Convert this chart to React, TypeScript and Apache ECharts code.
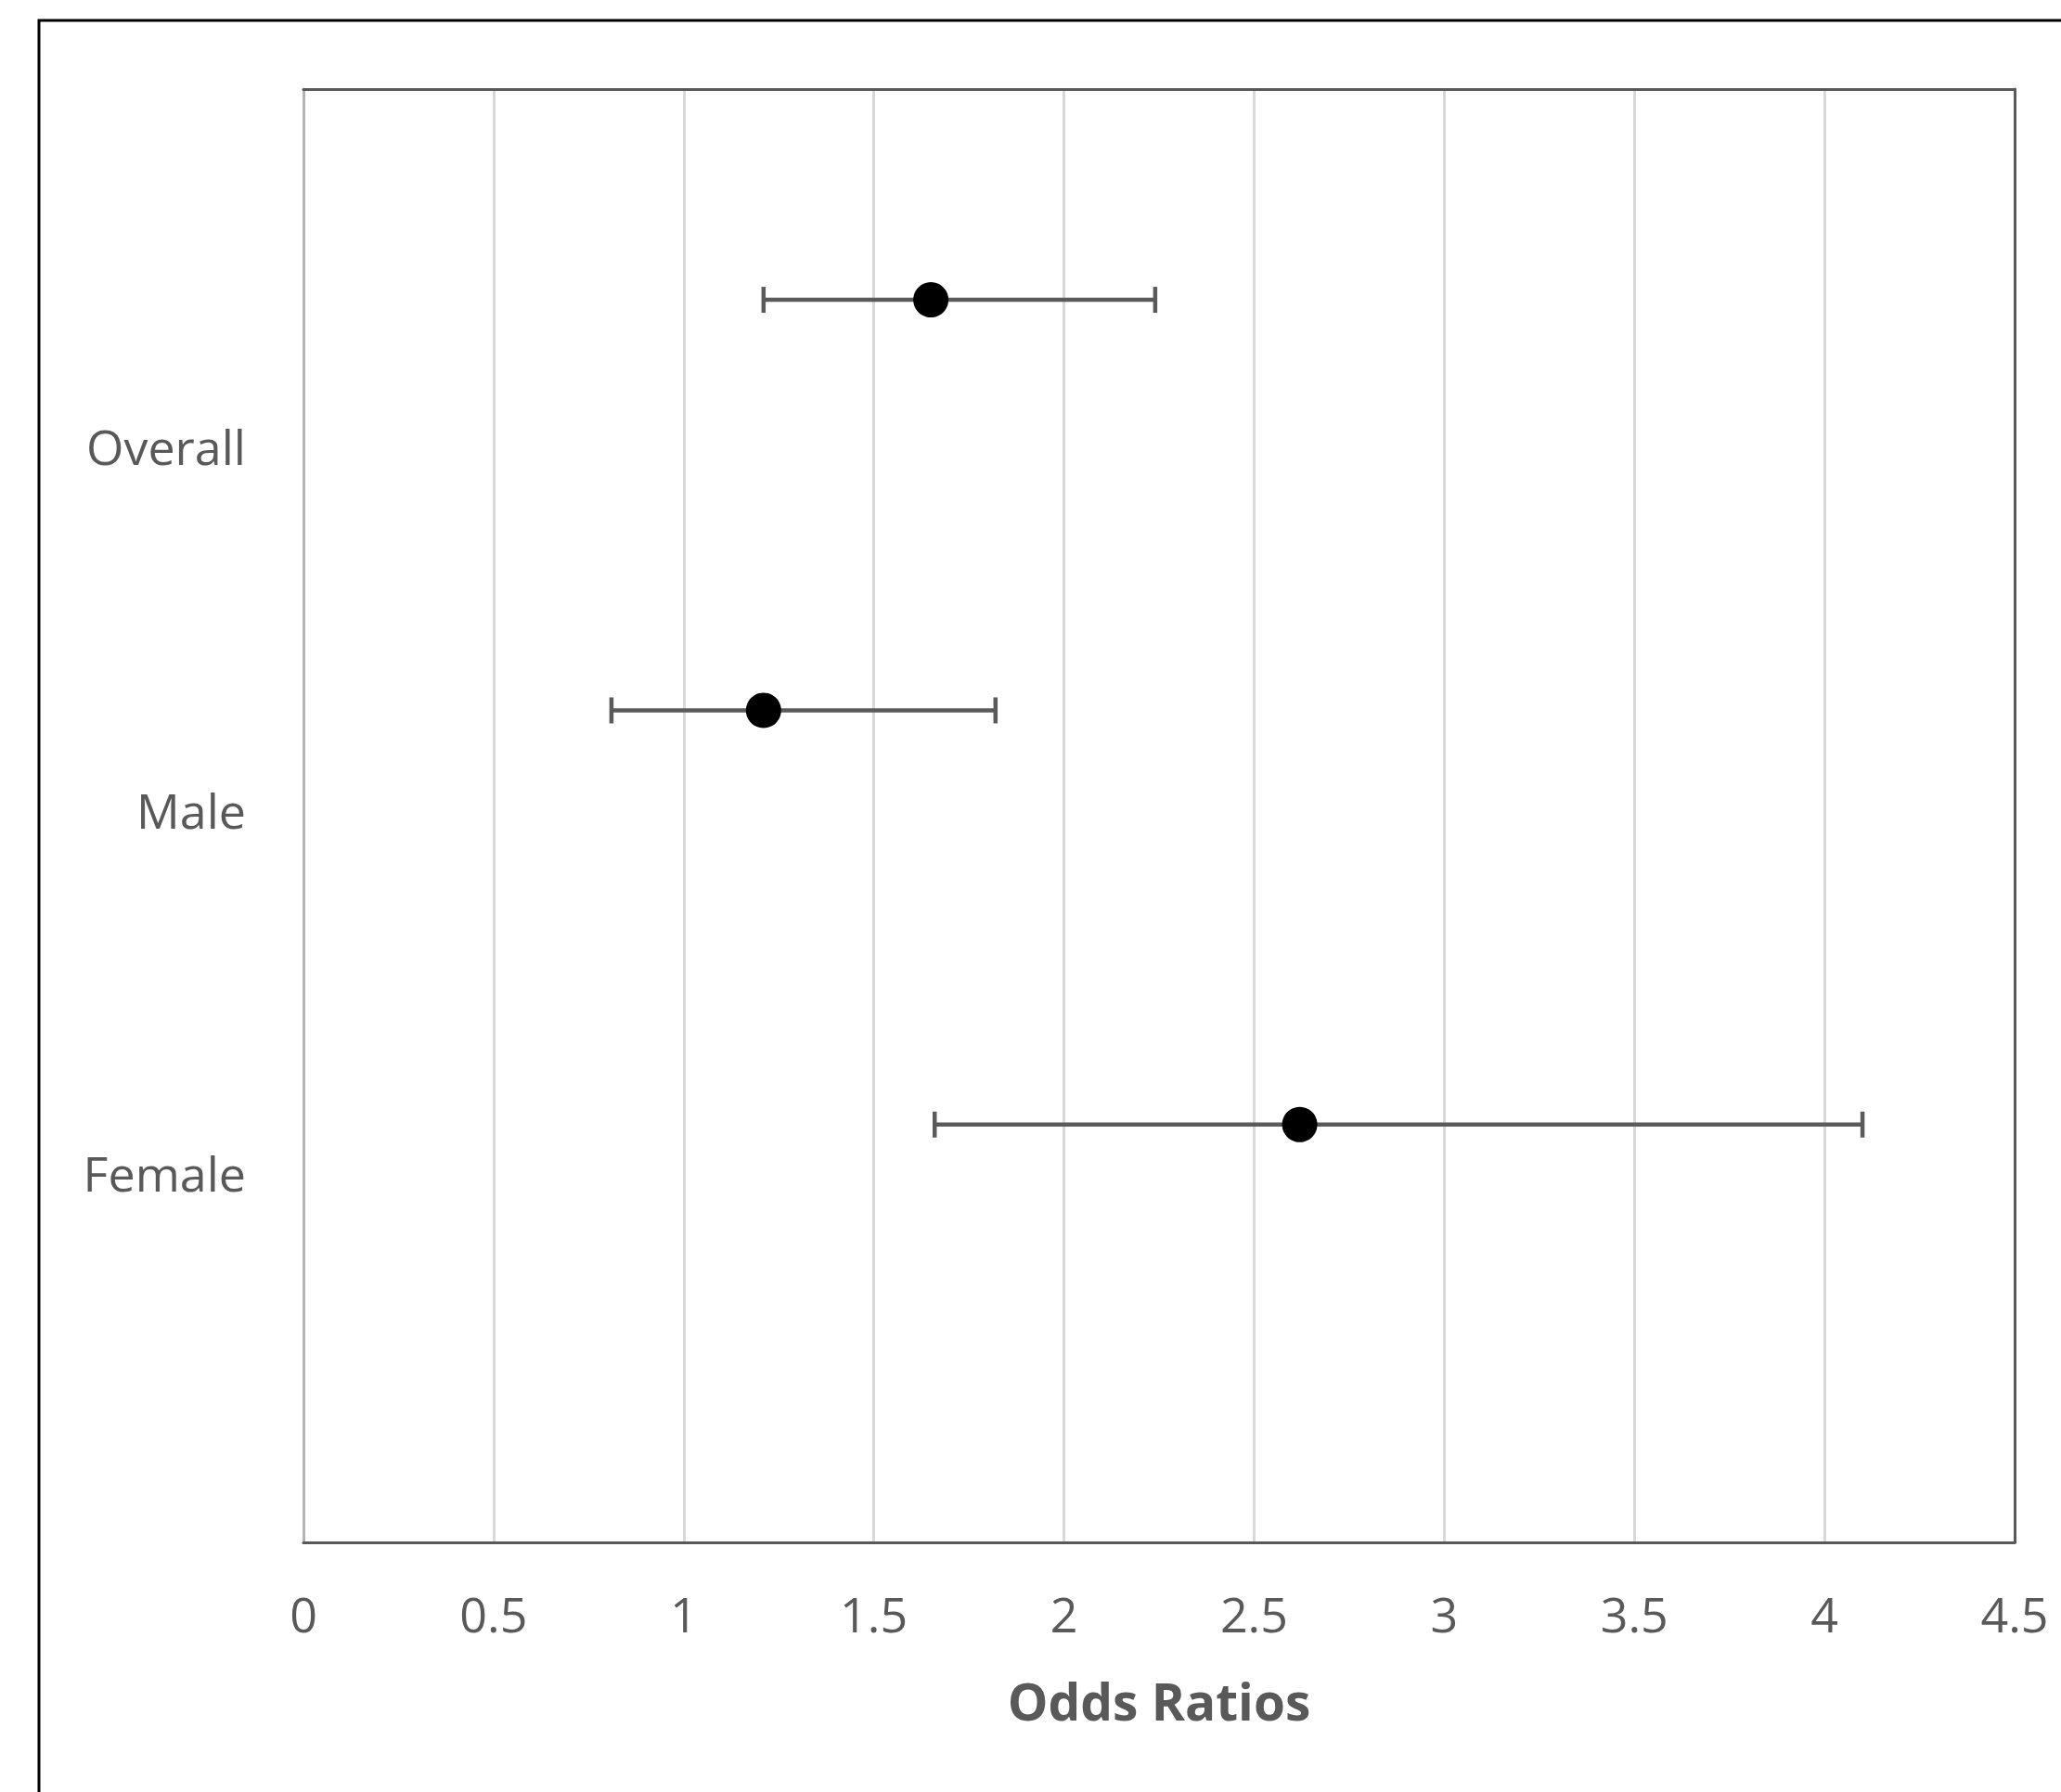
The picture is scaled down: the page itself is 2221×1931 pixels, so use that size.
import React, { useEffect, useRef } from "react";
import * as echarts from "echarts";

const categories = ["Overall", "Male", "Female"];
const categoryPositions = [3, 2, 1];
const oddsRatios = [1.65, 1.21, 2.62];
const lowerCI = [1.21, 0.81, 1.66];
const upperCI = [2.24, 1.82, 4.1];
const rowPositions = [3.42, 2.29, 1.15];
const xMin = 0;
const xMax = 4.5;
const xInterval = 0.5;
const yMin = 0;
const yMax = 4;
const axisTitle = "Odds Ratios";

const TEXT = "#595959";
const FONT = "'Open Sans', 'Liberation Sans', sans-serif";

export default function App() {
  const ref = useRef<HTMLDivElement>(null);
  useEffect(() => {
    document.body.style.margin = "0";
    if (!ref.current) return;
    const chart = echarts.init(ref.current, null, { renderer: "svg" });
    const labelMap: Record<number, string> = {};
    categoryPositions.forEach((p, i) => (labelMap[p] = categories[i]));

    const errData = categories.map((_, i) => [lowerCI[i], upperCI[i], rowPositions[i]]);
    const pointData = categories.map((_, i) => [oddsRatios[i], rowPositions[i]]);

    chart.setOption({
      animation: false,
      backgroundColor: "#ffffff",
      grid: { left: 327, top: 96, right: 50, bottom: 269, containLabel: false },
      xAxis: [
        {
          type: "value",
          min: xMin,
          max: xMax,
          interval: xInterval,
          position: "bottom",
          axisLine: { show: true, onZero: false, lineStyle: { color: "#595959", width: 3 } },
          axisTick: { show: false },
          axisLabel: {
            color: TEXT,
            fontFamily: FONT,
            fontSize: 52,
            margin: 50,
            formatter: (v: number) => String(v),
          },
          splitLine: {
            show: true,
            showMinLine: false,
            showMaxLine: false,
            lineStyle: { color: "#d9d9d9", width: 3 },
          },
          name: axisTitle,
          nameLocation: "middle",
          nameGap: 143,
          nameTextStyle: { color: TEXT, fontFamily: FONT, fontSize: 55, fontWeight: "bold" },
        },
        {
          type: "value",
          min: xMin,
          max: xMax,
          interval: xInterval,
          position: "top",
          axisLine: { show: true, onZero: false, lineStyle: { color: "#595959", width: 3 } },
          axisTick: { show: false },
          axisLabel: { show: false },
          splitLine: { show: false },
        },
      ],
      yAxis: [
        {
          type: "value",
          min: yMin,
          max: yMax,
          interval: 1,
          position: "left",
          axisLine: { show: true, onZero: false, lineStyle: { color: "#b3b3b3", width: 3 } },
          axisTick: { show: false },
          splitLine: { show: false },
          axisLabel: {
            color: TEXT,
            fontFamily: FONT,
            fontSize: 52,
            margin: 62,
            formatter: (v: number) => (labelMap[v] ? `{c|${labelMap[v]}}` : ""),
            rich: {
              c: {
                color: TEXT,
                fontFamily: FONT,
                fontSize: 52,
                padding: [0, 0, 14, 0],
              },
            },
          },
        },
        {
          type: "value",
          min: yMin,
          max: yMax,
          interval: 1,
          position: "right",
          axisLine: { show: true, onZero: false, lineStyle: { color: "#595959", width: 3 } },
          axisTick: { show: false },
          splitLine: { show: false },
          axisLabel: { show: false },
        },
      ],
      graphic: [
        {
          type: "rect",
          shape: { x: 42, y: 22, width: 2400, height: 2100 },
          style: { fill: "none", stroke: "#000000", lineWidth: 3 },
          silent: true,
        },
      ],
      series: [
        {
          type: "custom",
          xAxisIndex: 0,
          yAxisIndex: 0,
          z: 3,
          data: errData,
          encode: { x: [0, 1], y: 2 },
          renderItem: (params: any, api: any) => {
            const lo = api.coord([api.value(0), api.value(2)]);
            const hi = api.coord([api.value(1), api.value(2)]);
            const cap = 14;
            const style = { stroke: "#5a5a5a", lineWidth: 4.5 };
            return {
              type: "group",
              children: [
                { type: "line", shape: { x1: lo[0], y1: lo[1], x2: hi[0], y2: hi[1] }, style },
                { type: "line", shape: { x1: lo[0], y1: lo[1] - cap, x2: lo[0], y2: lo[1] + cap }, style },
                { type: "line", shape: { x1: hi[0], y1: hi[1] - cap, x2: hi[0], y2: hi[1] + cap }, style },
              ],
            };
          },
        },
        {
          type: "scatter",
          xAxisIndex: 0,
          yAxisIndex: 0,
          z: 5,
          symbol: "circle",
          symbolSize: 38,
          itemStyle: { color: "#000000", opacity: 1 },
          data: pointData,
        },
      ],
    });
    return () => chart.dispose();
  }, []);
  return <div ref={ref} style={{ width: 2221, height: 1931 }} />;
}
